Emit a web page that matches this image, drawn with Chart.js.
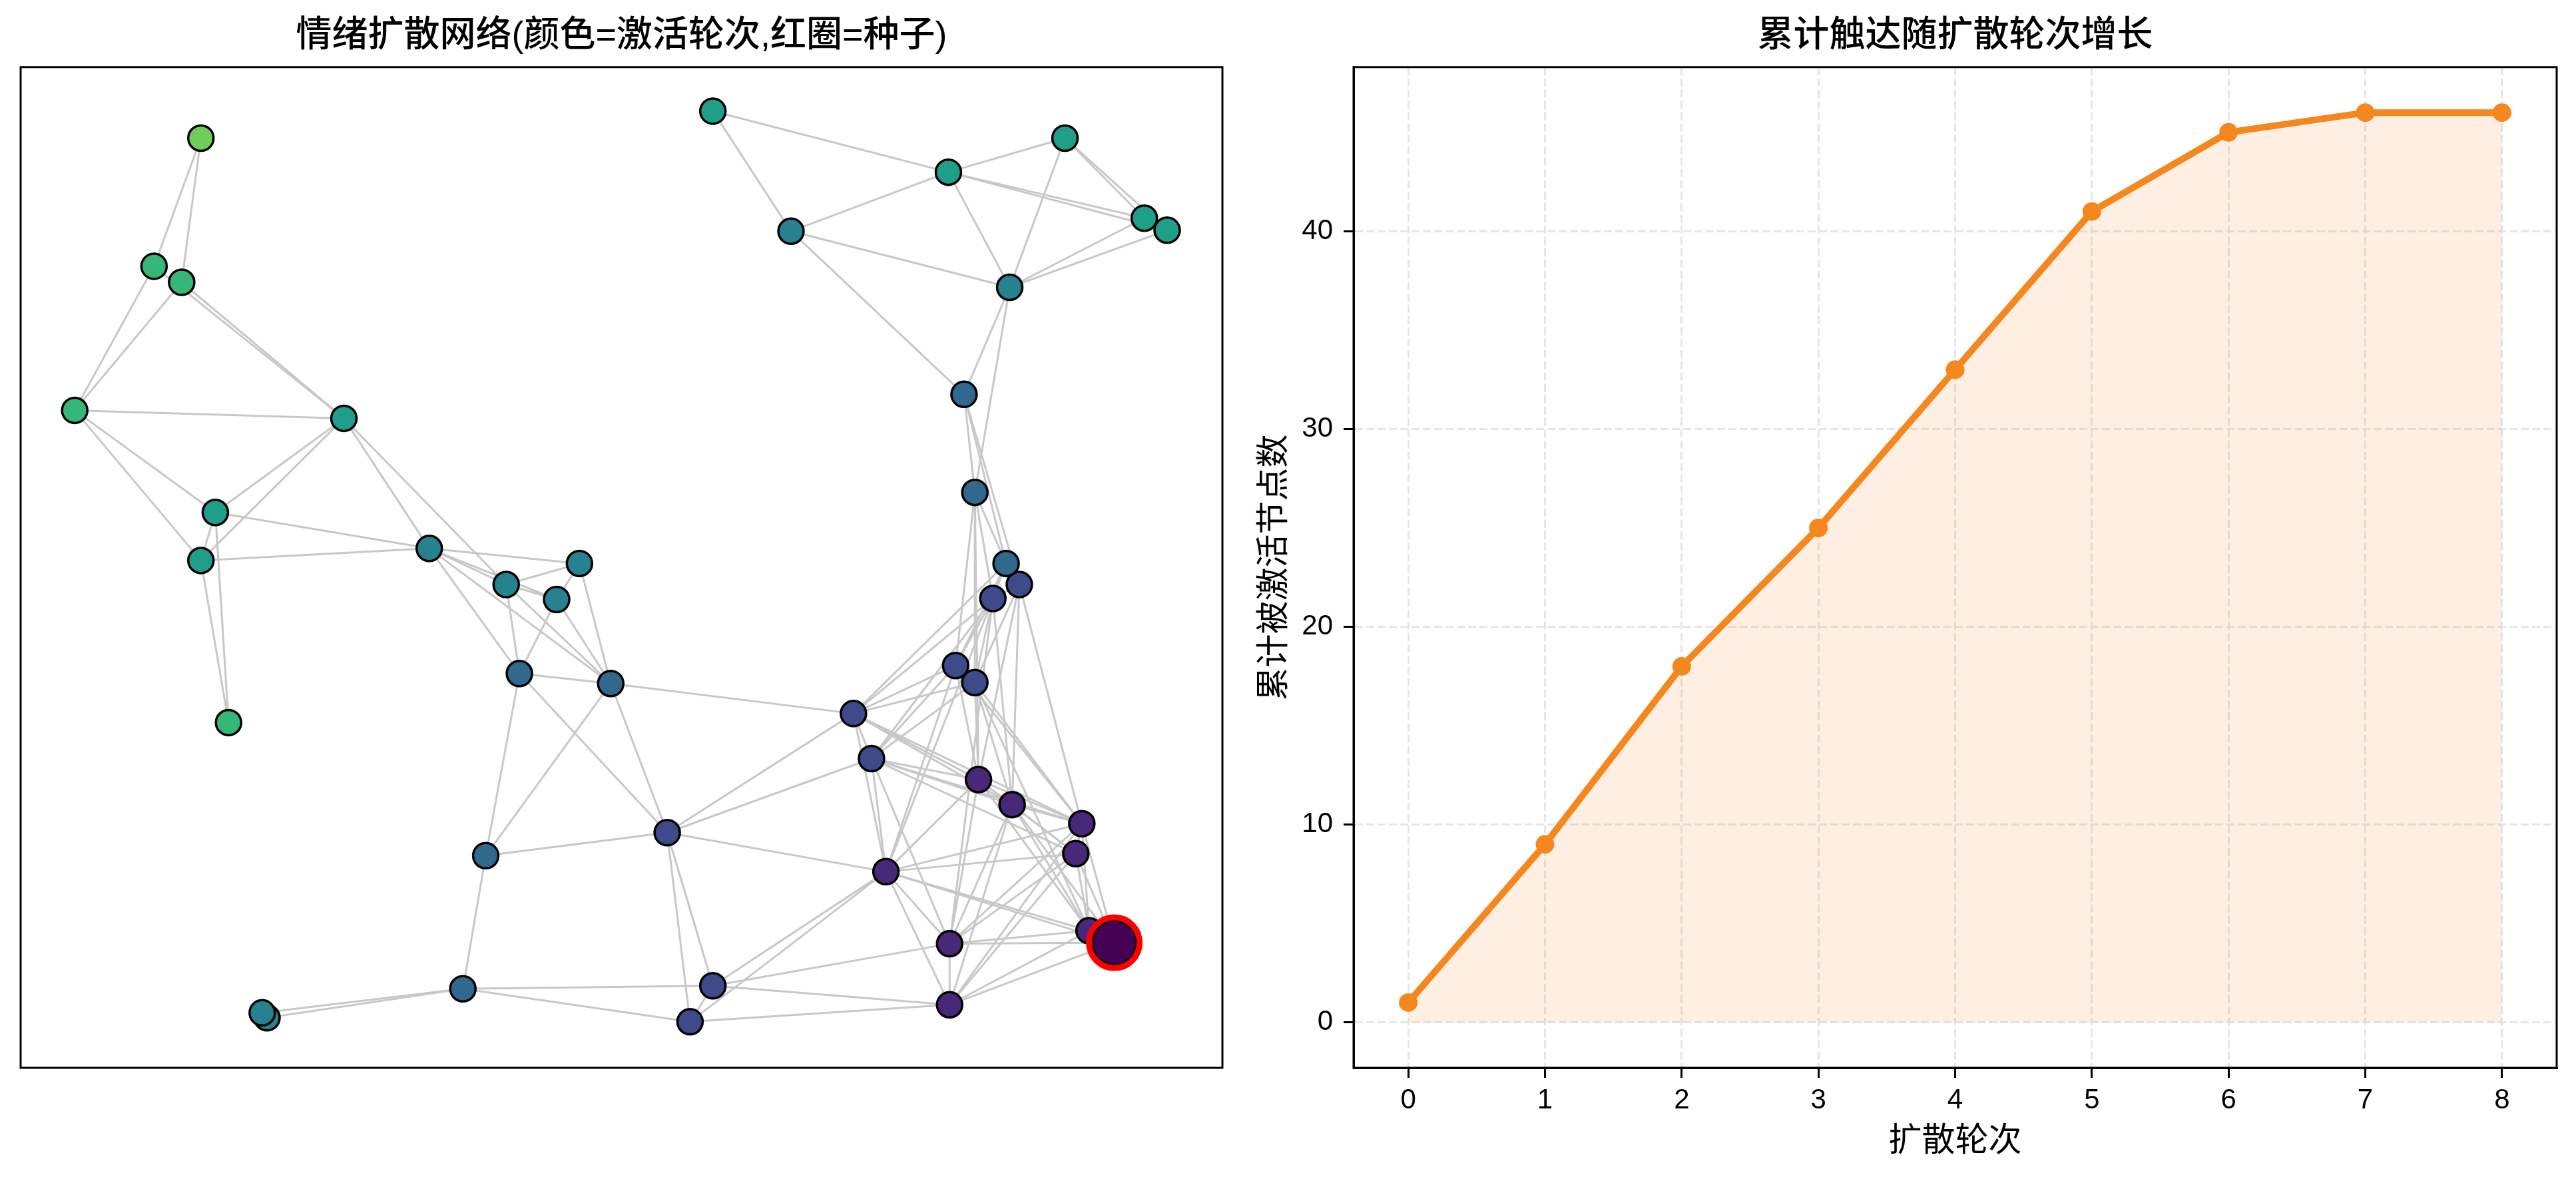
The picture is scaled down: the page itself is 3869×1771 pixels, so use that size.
<!DOCTYPE html>
<html>
<head>
<meta charset="utf-8">
<script src="https://cdn.jsdelivr.net/npm/chart.js@4.4.1/dist/chart.umd.min.js"></script>
<style>
    html, body { margin: 0; padding: 0; background: #fff; overflow: hidden; width: 3869px; height: 1771px; }
    #net { position: absolute; left: 0; top: 0; }
    #growth { position: absolute; left: 1880px; top: 0; }
</style>
</head>
<body>
<canvas id="net" width="1880" height="1771"></canvas>
<canvas id="growth" width="1989" height="1771"></canvas>
<script>
// network: layout coordinates (0..1 inside the axes box) and activation round of every node
const nodeNames = ['A', 'B', 'C', 'D', 'E', 'F', 'G', 'H', 'I', 'J', 'K', 'L', 'M', 'N',
    'O', 'P', 'Q', 'R', 'S', 'T', 'U', 'V', 'W', 'X', 'Y', 'Z',
    'AA', 'AB', 'AC', 'AD', 'AE', 'AF', 'AG', 'AH', 'AI', 'AJ', 'AK', 'AL', 'AM',
    'AN', 'AO', 'AP', 'AQ', 'AR', 'AS', 'AT']
const nodeX = [0.150, 0.111, 0.134, 0.045, 0.269, 0.162, 0.150, 0.173, 0.340, 0.404, 0.465, 0.446, 0.415, 0.491,
    0.576, 0.772, 0.869, 0.935, 0.954, 0.641, 0.823, 0.785, 0.794, 0.820, 0.831, 0.809,
    0.778, 0.794, 0.693, 0.708, 0.797, 0.825, 0.883, 0.878, 0.720, 0.889, 0.910, 0.773, 0.773,
    0.387, 0.538, 0.576, 0.557, 0.368, 0.205, 0.201]
const nodeY = [0.929, 0.801, 0.785, 0.657, 0.649, 0.555, 0.507, 0.345, 0.519, 0.483, 0.504, 0.468, 0.394, 0.384,
    0.956, 0.895, 0.929, 0.849, 0.837, 0.836, 0.780, 0.673, 0.575, 0.504, 0.483, 0.469,
    0.402, 0.385, 0.354, 0.309, 0.288, 0.263, 0.244, 0.214, 0.196, 0.137, 0.125, 0.124, 0.063,
    0.212, 0.235, 0.082, 0.046, 0.079, 0.050, 0.055]
const nodeRound = [7, 6, 6, 6, 5, 5, 5, 6, 4, 4, 4, 4, 3, 3,
    5, 5, 5, 5, 5, 4, 4, 3, 3, 3, 2, 2,
    2, 2, 2, 2, 1, 1, 1, 1, 1, 1, 0, 1, 1,
    3, 2, 2, 2, 3, 4, 4]
const seedNode = 'AK'
const edgeList = [
    ['A', 'B'], ['A', 'C'], ['B', 'D'], ['C', 'D'], ['B', 'E'], ['C', 'E'], ['D', 'E'], ['D', 'F'], ['D', 'G'],
    ['E', 'F'], ['E', 'G'], ['E', 'I'], ['E', 'J'], ['F', 'G'], ['F', 'I'], ['F', 'H'], ['G', 'H'], ['G', 'I'],
    ['I', 'J'], ['I', 'K'], ['I', 'L'], ['I', 'M'], ['I', 'N'], ['J', 'K'], ['J', 'L'], ['J', 'M'], ['J', 'N'],
    ['K', 'L'], ['K', 'N'], ['L', 'M'], ['L', 'N'], ['M', 'N'], ['M', 'AN'], ['N', 'AN'], ['M', 'AO'], ['N', 'AO'], ['N', 'AC'],
    ['AN', 'AO'], ['AN', 'AR'], ['AR', 'AS'], ['AR', 'AT'], ['AR', 'AP'], ['AR', 'AQ'], ['AS', 'AT'],
    ['O', 'P'], ['O', 'T'], ['P', 'Q'], ['P', 'T'], ['P', 'U'], ['P', 'R'], ['P', 'S'], ['Q', 'U'], ['Q', 'R'], ['Q', 'S'],
    ['R', 'U'], ['S', 'U'], ['R', 'S'], ['T', 'U'], ['T', 'V'], ['U', 'V'], ['U', 'W'], ['V', 'W'], ['V', 'X'], ['V', 'Y'],
    ['W', 'X'], ['W', 'Z'], ['W', 'AA'], ['W', 'AB'], ['W', 'AE'],
    ['X', 'Y'], ['X', 'Z'], ['Y', 'Z'], ['X', 'AC'], ['X', 'AA'], ['Y', 'AB'], ['Y', 'AE'], ['Y', 'AF'], ['Y', 'AG'],
    ['Z', 'AA'], ['Z', 'AB'], ['Z', 'AC'], ['Z', 'AD'], ['Z', 'AF'], ['Z', 'AI'], ['Z', 'AL'],
    ['AA', 'AB'], ['AA', 'AC'], ['AA', 'AD'], ['AA', 'AE'], ['AA', 'AI'], ['AA', 'AG'],
    ['AB', 'AC'], ['AB', 'AD'], ['AB', 'AE'], ['AB', 'AF'], ['AB', 'AG'], ['AB', 'AJ'],
    ['AC', 'AD'], ['AC', 'AE'], ['AC', 'AF'], ['AC', 'AG'], ['AC', 'AI'],
    ['AD', 'AE'], ['AD', 'AF'], ['AD', 'AG'], ['AD', 'AH'], ['AD', 'AI'], ['AD', 'AL'],
    ['AE', 'AF'], ['AE', 'AG'], ['AE', 'AH'], ['AE', 'AI'], ['AE', 'AL'], ['AE', 'AJ'],
    ['AF', 'AG'], ['AF', 'AH'], ['AF', 'AJ'], ['AF', 'AK'], ['AF', 'AL'], ['AF', 'AM'],
    ['AG', 'AH'], ['AG', 'AJ'], ['AG', 'AK'], ['AG', 'AL'], ['AG', 'AM'], ['AG', 'AI'],
    ['AH', 'AJ'], ['AH', 'AK'], ['AH', 'AI'], ['AH', 'AL'], ['AH', 'AM'],
    ['AI', 'AJ'], ['AI', 'AK'], ['AI', 'AL'], ['AI', 'AM'], ['AI', 'AO'],
    ['AJ', 'AK'], ['AJ', 'AL'], ['AK', 'AL'], ['AK', 'AM'], ['AJ', 'AM'], ['AL', 'AM'],
    ['AO', 'AC'], ['AO', 'AD'], ['AO', 'AP'], ['AO', 'AQ'], ['AP', 'AQ'], ['AP', 'AI'], ['AQ', 'AI'],
    ['AP', 'AL'], ['AP', 'AM'], ['AQ', 'AM']
]

// cumulative reach per round
const rounds = [0, 1, 2, 3, 4, 5, 6, 7, 8]
const reached = [1, 9, 18, 25, 33, 41, 45, 46, 46]
const xTicks = [0, 1, 2, 3, 4, 5, 6, 7, 8]
const yTicks = [0, 10, 20, 30, 40]

const roundColors = ['#440154', '#482878', '#3e4a89', '#31688e', '#26828e', '#1f9e89', '#35b779', '#6ece58']
const fontFamily = "'Liberation Sans', 'Noto Sans CJK SC', sans-serif"

// black box round the plot area (matplotlib spines)
const frame = {
    id: 'frame',
    afterDraw(chart) {
        const { ctx, chartArea: a } = chart
        ctx.save()
        ctx.strokeStyle = '#000'
        ctx.lineWidth = 3
        ctx.strokeRect(a.left, a.top, a.right - a.left, a.bottom - a.top)
        ctx.restore()
    }
}

const titleOpts = text => ({
    display: true,
    text: text,
    fullSize: false,
    color: '#000',
    font: { family: fontFamily, size: 54, weight: '500', lineHeight: 1.2 },
    padding: { top: 23, bottom: 13 }
})

// ---- left: network ----
const idx = {}
nodeNames.forEach((n, i) => idx[n] = i)

const edgeSets = edgeList.map(([a, b]) => ({
    data: [{ x: nodeX[idx[a]], y: nodeY[idx[a]] }, { x: nodeX[idx[b]], y: nodeY[idx[b]] }],
    showLine: true,
    borderColor: '#c8c8c8',
    borderWidth: 3,
    pointRadius: 0,
    order: 10
}))

const nodeSets = []
for (let r = 1; r < roundColors.length; r++) {
    const pts = []
    nodeNames.forEach((n, i) => {
        if (nodeRound[i] === r && n !== seedNode) pts.push({ x: nodeX[i], y: nodeY[i] })
    })
    nodeSets.push({
        data: pts,
        pointRadius: 19,
        pointBorderWidth: 3.5,
        pointBorderColor: '#000',
        pointBackgroundColor: roundColors[r],
        order: 9 - r
    })
}

const s = idx[seedNode]
const seedSets = [
    {
        data: [{ x: nodeX[s], y: nodeY[s] }],
        pointRadius: 33,
        pointBorderWidth: 3,
        pointBorderColor: '#000',
        pointBackgroundColor: roundColors[nodeRound[s]],
        order: 1
    },
    {
        data: [{ x: nodeX[s], y: nodeY[s] }],
        pointRadius: 38,
        pointBorderWidth: 9,
        pointBorderColor: '#ff0000',
        pointBackgroundColor: 'rgba(0,0,0,0)',
        order: 0
    }
]

new Chart(document.getElementById('net'), {
    type: 'scatter',
    data: { datasets: [...edgeSets, ...nodeSets, ...seedSets] },
    options: {
        responsive: false,
        animation: false,
        events: [],
        layout: { padding: { left: 31, right: 44, top: 0, bottom: 167 }, autoPadding: false },
        scales: {
            x: { type: 'linear', min: 0, max: 1, display: false },
            y: { type: 'linear', min: 0, max: 1, display: false }
        },
        plugins: {
            legend: { display: false },
            tooltip: { enabled: false },
            title: titleOpts('情绪扩散网络(颜色=激活轮次,红圈=种子)')
        }
    },
    plugins: [frame]
})

// ---- right: cumulative reach ----
const orange = '#f5871f'
const tickFont = { family: fontFamily, size: 42 }
const labelFont = { family: fontFamily, size: 50, lineHeight: 1.2 }
const gridOpts = { color: '#e6e6e6', lineWidth: 3, tickColor: '#000', tickWidth: 3, tickLength: 15 }

new Chart(document.getElementById('growth'), {
    type: 'line',
    data: {
        datasets: [{
            data: rounds.map((r, i) => ({ x: r, y: reached[i] })),
            borderColor: orange,
            borderWidth: 10,
            pointRadius: 14,
            pointBorderWidth: 0,
            pointBackgroundColor: orange,
            fill: 'origin',
            backgroundColor: 'rgba(245, 135, 31, 0.13)',
            tension: 0
        }]
    },
    options: {
        responsive: false,
        animation: false,
        events: [],
        layout: { padding: { left: 0, right: 29, top: 0, bottom: 0 }, autoPadding: false },
        scales: {
            x: {
                type: 'linear',
                min: -0.4,
                max: 8.4,
                afterBuildTicks: scale => { scale.ticks = xTicks.map(v => ({ value: v })) },
                afterFit: scale => { scale.height = 167 },
                grid: gridOpts,
                border: { display: true, color: '#000', width: 3, dash: [12, 5] },
                ticks: { font: tickFont, color: '#000', padding: 9, maxRotation: 0, autoSkip: false },
                title: { display: true, text: '扩散轮次', color: '#000', font: labelFont, padding: { top: 0, bottom: 26 } }
            },
            y: {
                type: 'linear',
                min: -2.3,
                max: 48.3,
                afterBuildTicks: scale => { scale.ticks = yTicks.map(v => ({ value: v })) },
                afterFit: scale => { scale.width = 153 },
                grid: gridOpts,
                border: { display: true, color: '#000', width: 3, dash: [12, 5] },
                ticks: { font: tickFont, color: '#000', padding: 16, autoSkip: false },
                title: { display: true, text: '累计被激活节点数', color: '#000', font: labelFont, padding: { top: 5, bottom: 0 } }
            }
        },
        plugins: {
            legend: { display: false },
            tooltip: { enabled: false },
            title: titleOpts('累计触达随扩散轮次增长')
        }
    },
    plugins: [frame]
})
</script>
</body>
</html>
